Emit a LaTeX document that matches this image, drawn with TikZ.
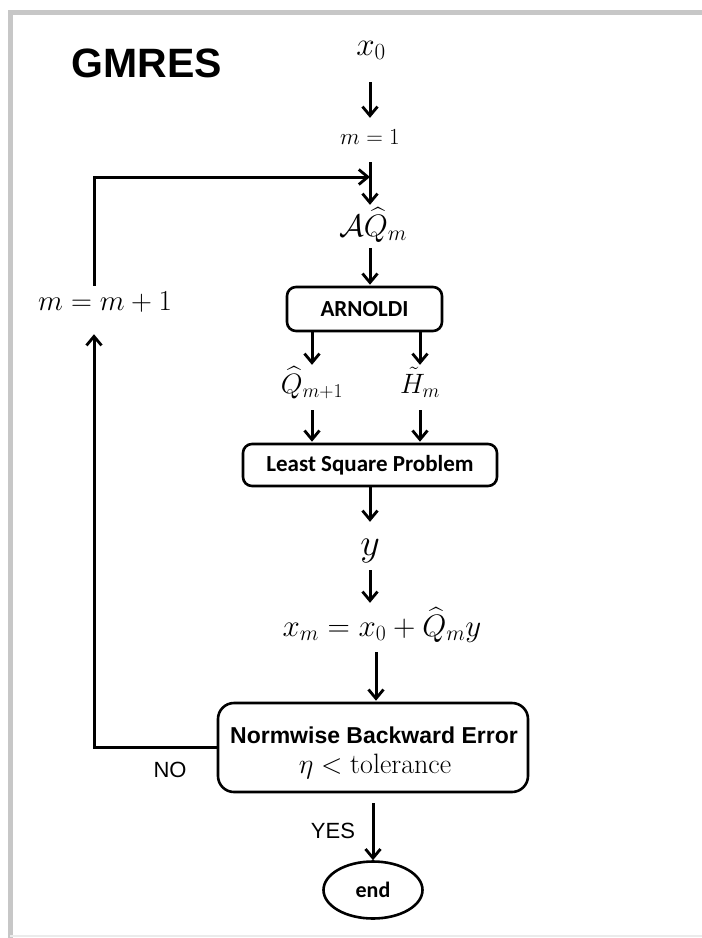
\RequirePackage{fix-cm}
\documentclass[tikz,border=0pt]{standalone}
\usepackage{amsmath}
\usepackage{fontspec}
\newfontfamily\headfont{Liberation Sans}
\newfontfamily\boxfont{Carlito}
\usetikzlibrary{arrows.meta,shapes.geometric}

\begin{document}
\begin{tikzpicture}[x=1pt,y=-1pt,
  arr/.style={line width=3pt,-{Straight Barb[length=9pt,width=15pt,line width=2.8pt]}},
  % math label sitting on its baseline; #1 size, #2 room above, #3 room below
  mlbl/.style args={#1/#2/#3}{inner sep=0pt,anchor=base,
    font=\fontsize{#1}{#1}\selectfont,text height=#2pt,text depth=#3pt},
  stepbox/.style={draw,line width=2.6pt,rounded corners=9pt,inner sep=0pt,
    font=\boxfont\bfseries\fontsize{23}{27}\selectfont},
  plain/.style={inner sep=0pt,font=\headfont\fontsize{22}{26}\selectfont}]

% page and frame
\useasboundingbox (0,0) rectangle (702,938);
\fill[white] (0,0) rectangle (702,938);
\draw[line width=5pt,black!22] (702,12) -- (10,12) -- (10,938);
\draw[line width=1.5pt,black!8] (10,936) -- (702,936);

% title
\node[inner sep=0pt,font=\headfont\bfseries\fontsize{41}{45}\selectfont] (title) at (147,63) {GMRES};

% main column
\node[mlbl=33/20/27] (x0) at (371,55) {$x_0$};
\node[mlbl=23/26/18] (m1) at (370,144) {$m=1$};
\node[mlbl=31/31/12] (aq) at (373,236) {$\mathcal{A}\widehat{Q}_m$};
\node[stepbox,minimum width=155pt,minimum height=44pt] (arn) at (364.5,309) {ARNOLDI};
\node[mlbl=28/28/17] (qm) at (312,393) {$\widehat{Q}_{m+1}$};
\node[mlbl=28/28/17] (hm) at (420,393) {$\tilde{H}_m$};
\node[stepbox,minimum width=254pt,minimum height=42pt] (lsp) at (370,465) {Least Square Problem};
\node[mlbl=38/33/15] (y) at (370,555) {$y$};
\node[mlbl=31/33/16] (xm) at (382,636) {$x_m=x_0+\widehat{Q}_m y$};
\node[draw,line width=2.6pt,rounded corners=16pt,minimum width=310pt,minimum height=89pt,inner sep=0pt] (nbe) at (373,747.5) {};
\node[inner sep=0pt,anchor=base,font=\headfont\bfseries\fontsize{23}{26}\selectfont] (nbe1) at (374,743) {Normwise Backward Error};
\node[inner sep=0pt,anchor=base,font=\fontsize{28}{30}\selectfont] (nbe2) at (375,773) {$\eta<\mathrm{tolerance}$};
\node[draw,ellipse,line width=2.6pt,minimum width=99pt,minimum height=57pt,inner sep=0pt,
  font=\boxfont\bfseries\fontsize{22}{26}\selectfont] (end) at (373,890) {end};

% loop-back labels
\node[mlbl=29/24/24] (mm) at (105,310) {$m=m+1$};
\node[plain] (no) at (170,770) {NO};
\node[plain] (yes) at (333,831) {YES};

\coordinate (lx) at (94,0);
\coordinate (join) at (370,177);

% connectors
\draw[arr] (x0.south -| m1) -- (m1.north);
\draw[arr] (m1.south) -- (m1.south |- aq.north);
\draw[arr] (m1.south |- aq.south) -- ([yshift=1pt]m1.south |- arn.north);
\draw[arr] (arn.south -| qm) -- (qm.north);
\draw[arr] (arn.south -| hm) -- (hm.north);
\draw[arr] (qm.south) -- ([yshift=1pt]qm.south |- lsp.north);
\draw[arr] (hm.south) -- ([yshift=1pt]hm.south |- lsp.north);
\draw[arr] (lsp.south -| y) -- (y.north);
\draw[arr] (y.south) -- (y.south |- xm.north);
\draw[arr] ([xshift=3pt]xm.south -| nbe) -- ([xshift=3pt,yshift=1pt]nbe.north);
\draw[arr] ([yshift=-10pt]nbe.south) -- (end.north);
\draw[arr] (nbe.west) -- (nbe.west -| lx) -- (lx |- mm.south);
\draw[arr] (lx |- mm.north) |- (join);
\end{tikzpicture}
\end{document}
